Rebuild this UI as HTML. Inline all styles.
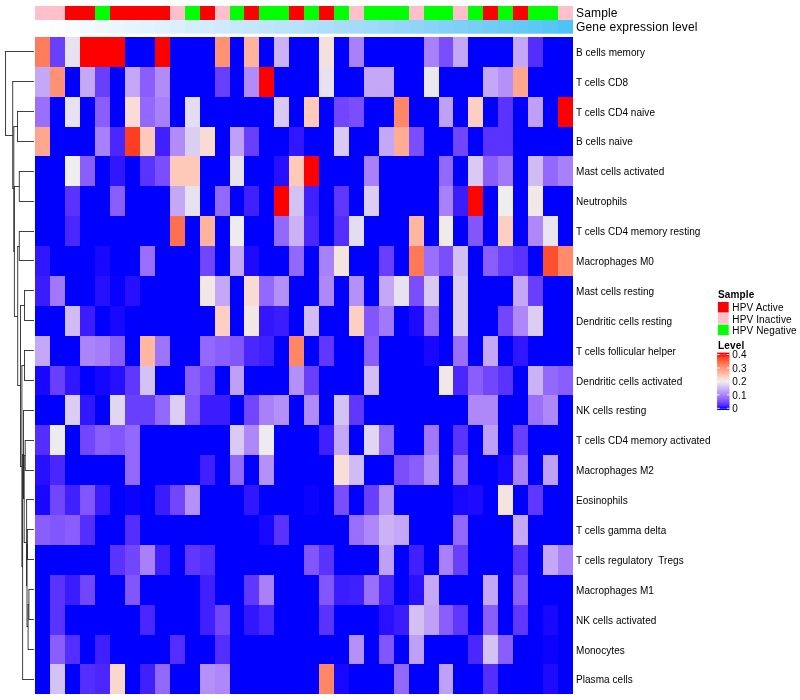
<!DOCTYPE html>
<html lang="en"><head><meta charset="utf-8"><title>Heatmap</title>
<style>
html,body{margin:0;padding:0;background:#fff}
svg{display:block}
text{font-family:"Liberation Sans",sans-serif;fill:#000}
.rl{font-size:10px;letter-spacing:0.05px}
.an{font-size:12px;letter-spacing:0.13px}
.lt{font-size:10px;font-weight:bold;letter-spacing:0.15px}
.ll{font-size:10px;letter-spacing:0.14px}
</style></head>
<body>
<svg width="800" height="700" viewBox="0 0 800 700">
<rect width="800" height="700" fill="#fff"/>
<g>
<rect x="35" y="6.00" width="30" height="14.00" fill="#ffc0cb"/>
<rect x="65" y="6.00" width="30" height="14.00" fill="#ff0000"/>
<rect x="95" y="6.00" width="15" height="14.00" fill="#00ff00"/>
<rect x="110" y="6.00" width="60" height="14.00" fill="#ff0000"/>
<rect x="170" y="6.00" width="15" height="14.00" fill="#ffc0cb"/>
<rect x="185" y="6.00" width="15" height="14.00" fill="#00ff00"/>
<rect x="200" y="6.00" width="15" height="14.00" fill="#ff0000"/>
<rect x="215" y="6.00" width="15" height="14.00" fill="#ffc0cb"/>
<rect x="230" y="6.00" width="14" height="14.00" fill="#00ff00"/>
<rect x="244" y="6.00" width="15" height="14.00" fill="#ff0000"/>
<rect x="259" y="6.00" width="30" height="14.00" fill="#00ff00"/>
<rect x="289" y="6.00" width="15" height="14.00" fill="#ff0000"/>
<rect x="304" y="6.00" width="15" height="14.00" fill="#00ff00"/>
<rect x="319" y="6.00" width="15" height="14.00" fill="#ff0000"/>
<rect x="334" y="6.00" width="15" height="14.00" fill="#00ff00"/>
<rect x="349" y="6.00" width="15" height="14.00" fill="#ffc0cb"/>
<rect x="364" y="6.00" width="45" height="14.00" fill="#00ff00"/>
<rect x="409" y="6.00" width="15" height="14.00" fill="#ffc0cb"/>
<rect x="424" y="6.00" width="29" height="14.00" fill="#00ff00"/>
<rect x="453" y="6.00" width="15" height="14.00" fill="#ffc0cb"/>
<rect x="468" y="6.00" width="15" height="14.00" fill="#00ff00"/>
<rect x="483" y="6.00" width="15" height="14.00" fill="#ff0000"/>
<rect x="498" y="6.00" width="15" height="14.00" fill="#00ff00"/>
<rect x="513" y="6.00" width="15" height="14.00" fill="#ff0000"/>
<rect x="528" y="6.00" width="30" height="14.00" fill="#00ff00"/>
<rect x="558" y="6.00" width="15" height="14.00" fill="#ffc0cb"/>
<rect x="35" y="20.00" width="15" height="13.70" fill="#ffffff"/>
<rect x="50" y="20.00" width="15" height="13.70" fill="#fbfdff"/>
<rect x="65" y="20.00" width="15" height="13.70" fill="#f7fcfe"/>
<rect x="80" y="20.00" width="15" height="13.70" fill="#f3fafe"/>
<rect x="95" y="20.00" width="15" height="13.70" fill="#eff8fe"/>
<rect x="110" y="20.00" width="15" height="13.70" fill="#eaf6fe"/>
<rect x="125" y="20.00" width="15" height="13.70" fill="#e6f5fd"/>
<rect x="140" y="20.00" width="15" height="13.70" fill="#e2f3fd"/>
<rect x="155" y="20.00" width="15" height="13.70" fill="#def1fd"/>
<rect x="170" y="20.00" width="15" height="13.70" fill="#daf0fd"/>
<rect x="185" y="20.00" width="15" height="13.70" fill="#d5eefc"/>
<rect x="200" y="20.00" width="15" height="13.70" fill="#d1ecfc"/>
<rect x="215" y="20.00" width="15" height="13.70" fill="#cdebfc"/>
<rect x="230" y="20.00" width="14" height="13.70" fill="#c8e9fc"/>
<rect x="244" y="20.00" width="15" height="13.70" fill="#c4e7fb"/>
<rect x="259" y="20.00" width="15" height="13.70" fill="#bfe6fb"/>
<rect x="274" y="20.00" width="15" height="13.70" fill="#bbe4fb"/>
<rect x="289" y="20.00" width="15" height="13.70" fill="#b6e2fa"/>
<rect x="304" y="20.00" width="15" height="13.70" fill="#b1e0fa"/>
<rect x="319" y="20.00" width="15" height="13.70" fill="#addffa"/>
<rect x="334" y="20.00" width="15" height="13.70" fill="#a8ddfa"/>
<rect x="349" y="20.00" width="15" height="13.70" fill="#a3dbf9"/>
<rect x="364" y="20.00" width="15" height="13.70" fill="#9edaf9"/>
<rect x="379" y="20.00" width="15" height="13.70" fill="#99d8f9"/>
<rect x="394" y="20.00" width="15" height="13.70" fill="#94d6f8"/>
<rect x="409" y="20.00" width="15" height="13.70" fill="#8ed5f8"/>
<rect x="424" y="20.00" width="15" height="13.70" fill="#89d3f8"/>
<rect x="439" y="20.00" width="14" height="13.70" fill="#83d1f8"/>
<rect x="453" y="20.00" width="15" height="13.70" fill="#7ed0f7"/>
<rect x="468" y="20.00" width="15" height="13.70" fill="#78cef7"/>
<rect x="483" y="20.00" width="15" height="13.70" fill="#71ccf7"/>
<rect x="498" y="20.00" width="15" height="13.70" fill="#6bcbf6"/>
<rect x="513" y="20.00" width="15" height="13.70" fill="#64c9f6"/>
<rect x="528" y="20.00" width="15" height="13.70" fill="#5dc7f6"/>
<rect x="543" y="20.00" width="15" height="13.70" fill="#55c6f5"/>
<rect x="558" y="20.00" width="15" height="13.70" fill="#4cc4f5"/>
<rect x="35" y="37" width="538" height="657" fill="#0000ff"/>
<rect x="35" y="37" width="15" height="30" fill="#ff7d5d"/>
<rect x="50" y="37" width="15" height="30" fill="#693ffe"/>
<rect x="65" y="37" width="15" height="30" fill="#e7e1f0"/>
<rect x="80" y="37" width="45" height="30" fill="#ff0000"/>
<rect x="155" y="37" width="15" height="30" fill="#ff0000"/>
<rect x="215" y="37" width="15" height="30" fill="#ff9275"/>
<rect x="244" y="37" width="15" height="30" fill="#ffb39d"/>
<rect x="274" y="37" width="15" height="30" fill="#cbb2f5"/>
<rect x="319" y="37" width="15" height="30" fill="#f5e1db"/>
<rect x="349" y="37" width="15" height="30" fill="#a780fa"/>
<rect x="424" y="37" width="15" height="30" fill="#a780fa"/>
<rect x="439" y="37" width="14" height="30" fill="#7a4efd"/>
<rect x="453" y="37" width="15" height="30" fill="#c4a7f7"/>
<rect x="513" y="37" width="15" height="30" fill="#c4a7f7"/>
<rect x="528" y="37" width="15" height="30" fill="#542efe"/>
<rect x="35" y="67" width="15" height="30" fill="#c4a7f7"/>
<rect x="50" y="67" width="15" height="30" fill="#ff9275"/>
<rect x="80" y="67" width="15" height="30" fill="#c4a7f7"/>
<rect x="95" y="67" width="15" height="30" fill="#693ffe"/>
<rect x="125" y="67" width="15" height="30" fill="#c4a7f7"/>
<rect x="140" y="67" width="15" height="30" fill="#8a5efc"/>
<rect x="155" y="67" width="15" height="30" fill="#b18cf9"/>
<rect x="215" y="67" width="15" height="30" fill="#693ffe"/>
<rect x="244" y="67" width="15" height="30" fill="#b18cf9"/>
<rect x="259" y="67" width="15" height="30" fill="#ff0000"/>
<rect x="319" y="67" width="15" height="30" fill="#e7e1f0"/>
<rect x="364" y="67" width="30" height="30" fill="#c4a7f7"/>
<rect x="424" y="67" width="15" height="30" fill="#ebe7ef"/>
<rect x="483" y="67" width="15" height="30" fill="#c4a7f7"/>
<rect x="498" y="67" width="15" height="30" fill="#b491f9"/>
<rect x="513" y="67" width="15" height="30" fill="#ffa78e"/>
<rect x="35" y="97" width="15" height="30" fill="#996ffb"/>
<rect x="65" y="97" width="15" height="30" fill="#e7e1f0"/>
<rect x="95" y="97" width="15" height="30" fill="#8a5efc"/>
<rect x="125" y="97" width="15" height="30" fill="#f8dcd5"/>
<rect x="140" y="97" width="15" height="30" fill="#9368fc"/>
<rect x="155" y="97" width="15" height="30" fill="#a780fa"/>
<rect x="185" y="97" width="15" height="30" fill="#e4dcf1"/>
<rect x="274" y="97" width="15" height="30" fill="#dacaf3"/>
<rect x="304" y="97" width="15" height="30" fill="#ffc9ba"/>
<rect x="334" y="97" width="15" height="30" fill="#7146fd"/>
<rect x="349" y="97" width="15" height="30" fill="#7a4efd"/>
<rect x="394" y="97" width="15" height="30" fill="#ff8768"/>
<rect x="439" y="97" width="14" height="30" fill="#bfa0f7"/>
<rect x="468" y="97" width="15" height="30" fill="#fdcfc2"/>
<rect x="498" y="97" width="15" height="30" fill="#5a33fe"/>
<rect x="528" y="97" width="15" height="30" fill="#bfa0f7"/>
<rect x="558" y="97" width="15" height="30" fill="#ff0000"/>
<rect x="35" y="127" width="15" height="29" fill="#ffa78e"/>
<rect x="95" y="127" width="15" height="29" fill="#a780fa"/>
<rect x="110" y="127" width="15" height="29" fill="#4a27fe"/>
<rect x="125" y="127" width="15" height="29" fill="#ff3d21"/>
<rect x="140" y="127" width="15" height="29" fill="#ffc9ba"/>
<rect x="155" y="127" width="15" height="29" fill="#4020ff"/>
<rect x="170" y="127" width="15" height="29" fill="#b18cf9"/>
<rect x="185" y="127" width="15" height="29" fill="#dccef2"/>
<rect x="200" y="127" width="15" height="29" fill="#f8dbd3"/>
<rect x="230" y="127" width="14" height="29" fill="#bfa0f7"/>
<rect x="244" y="127" width="15" height="29" fill="#693ffe"/>
<rect x="289" y="127" width="15" height="29" fill="#3117ff"/>
<rect x="334" y="127" width="15" height="29" fill="#dacaf3"/>
<rect x="379" y="127" width="15" height="29" fill="#c4a7f7"/>
<rect x="394" y="127" width="15" height="29" fill="#ffac95"/>
<rect x="409" y="127" width="15" height="29" fill="#7a4efd"/>
<rect x="453" y="127" width="15" height="29" fill="#7146fd"/>
<rect x="483" y="127" width="30" height="29" fill="#5a33fe"/>
<rect x="65" y="156" width="15" height="30" fill="#eeeeee"/>
<rect x="80" y="156" width="15" height="30" fill="#8a5efc"/>
<rect x="110" y="156" width="15" height="30" fill="#3117ff"/>
<rect x="140" y="156" width="15" height="30" fill="#5a33fe"/>
<rect x="155" y="156" width="15" height="30" fill="#7a4efd"/>
<rect x="170" y="156" width="30" height="30" fill="#ffc9ba"/>
<rect x="230" y="156" width="14" height="30" fill="#e7e1f0"/>
<rect x="274" y="156" width="15" height="30" fill="#2710ff"/>
<rect x="289" y="156" width="15" height="30" fill="#ffc9ba"/>
<rect x="304" y="156" width="15" height="30" fill="#ff0000"/>
<rect x="364" y="156" width="15" height="30" fill="#a780fa"/>
<rect x="439" y="156" width="14" height="30" fill="#9368fc"/>
<rect x="468" y="156" width="15" height="30" fill="#dacaf3"/>
<rect x="483" y="156" width="15" height="30" fill="#8a5efc"/>
<rect x="498" y="156" width="15" height="30" fill="#a178fa"/>
<rect x="528" y="156" width="15" height="30" fill="#d1bbf5"/>
<rect x="543" y="156" width="15" height="30" fill="#9368fc"/>
<rect x="558" y="156" width="15" height="30" fill="#a780fa"/>
<rect x="65" y="186" width="15" height="30" fill="#5a33fe"/>
<rect x="110" y="186" width="15" height="30" fill="#8a5efc"/>
<rect x="170" y="186" width="15" height="30" fill="#c4a7f7"/>
<rect x="185" y="186" width="15" height="30" fill="#e7e1f0"/>
<rect x="215" y="186" width="15" height="30" fill="#9368fc"/>
<rect x="244" y="186" width="15" height="30" fill="#4020ff"/>
<rect x="274" y="186" width="15" height="30" fill="#ff0000"/>
<rect x="289" y="186" width="15" height="30" fill="#d5c2f4"/>
<rect x="304" y="186" width="15" height="30" fill="#4020ff"/>
<rect x="334" y="186" width="15" height="30" fill="#5f37fe"/>
<rect x="364" y="186" width="15" height="30" fill="#dccef2"/>
<rect x="439" y="186" width="14" height="30" fill="#a780fa"/>
<rect x="453" y="186" width="15" height="30" fill="#3a1cff"/>
<rect x="468" y="186" width="15" height="30" fill="#ff0301"/>
<rect x="498" y="186" width="15" height="30" fill="#eeeeee"/>
<rect x="528" y="186" width="15" height="30" fill="#f1e9e7"/>
<rect x="65" y="216" width="15" height="30" fill="#4a27fe"/>
<rect x="170" y="216" width="15" height="30" fill="#ff7050"/>
<rect x="200" y="216" width="15" height="30" fill="#ffb39d"/>
<rect x="230" y="216" width="14" height="30" fill="#edebee"/>
<rect x="274" y="216" width="15" height="30" fill="#9368fc"/>
<rect x="289" y="216" width="15" height="30" fill="#cbb2f5"/>
<rect x="304" y="216" width="15" height="30" fill="#4a27fe"/>
<rect x="334" y="216" width="15" height="30" fill="#542efe"/>
<rect x="349" y="216" width="15" height="30" fill="#e4dcf1"/>
<rect x="409" y="216" width="15" height="30" fill="#ffb7a2"/>
<rect x="439" y="216" width="14" height="30" fill="#f0eae8"/>
<rect x="468" y="216" width="15" height="30" fill="#8256fd"/>
<rect x="498" y="216" width="15" height="30" fill="#fdcfc2"/>
<rect x="528" y="216" width="15" height="30" fill="#ae88f9"/>
<rect x="543" y="216" width="15" height="30" fill="#e9e4ef"/>
<rect x="35" y="246" width="15" height="30" fill="#3117ff"/>
<rect x="95" y="246" width="15" height="30" fill="#1808ff"/>
<rect x="140" y="246" width="15" height="30" fill="#996ffb"/>
<rect x="200" y="246" width="15" height="30" fill="#7146fd"/>
<rect x="230" y="246" width="14" height="30" fill="#c4a7f7"/>
<rect x="244" y="246" width="15" height="30" fill="#1e0bff"/>
<rect x="289" y="246" width="15" height="30" fill="#9368fc"/>
<rect x="319" y="246" width="15" height="30" fill="#a780fa"/>
<rect x="334" y="246" width="15" height="30" fill="#f4e3de"/>
<rect x="379" y="246" width="15" height="30" fill="#693ffe"/>
<rect x="409" y="246" width="15" height="30" fill="#ff7858"/>
<rect x="424" y="246" width="15" height="30" fill="#996ffb"/>
<rect x="439" y="246" width="14" height="30" fill="#7a4efd"/>
<rect x="453" y="246" width="15" height="30" fill="#d3bff4"/>
<rect x="483" y="246" width="15" height="30" fill="#8a5efc"/>
<rect x="498" y="246" width="15" height="30" fill="#693ffe"/>
<rect x="513" y="246" width="15" height="30" fill="#5a33fe"/>
<rect x="543" y="246" width="15" height="30" fill="#ff4f30"/>
<rect x="558" y="246" width="15" height="30" fill="#ff8a6c"/>
<rect x="35" y="276" width="15" height="30" fill="#3a1cff"/>
<rect x="50" y="276" width="15" height="30" fill="#a178fa"/>
<rect x="95" y="276" width="15" height="30" fill="#2710ff"/>
<rect x="110" y="276" width="15" height="30" fill="#0702ff"/>
<rect x="125" y="276" width="15" height="30" fill="#2710ff"/>
<rect x="200" y="276" width="15" height="30" fill="#f2e7e4"/>
<rect x="215" y="276" width="15" height="30" fill="#c4a7f7"/>
<rect x="244" y="276" width="15" height="30" fill="#f8dbd3"/>
<rect x="259" y="276" width="15" height="30" fill="#9368fc"/>
<rect x="274" y="276" width="15" height="30" fill="#b491f9"/>
<rect x="319" y="276" width="15" height="30" fill="#ae88f9"/>
<rect x="349" y="276" width="15" height="30" fill="#b491f9"/>
<rect x="379" y="276" width="15" height="30" fill="#c4a7f7"/>
<rect x="394" y="276" width="15" height="30" fill="#e7e1f0"/>
<rect x="409" y="276" width="15" height="30" fill="#7a4efd"/>
<rect x="424" y="276" width="15" height="30" fill="#dacaf3"/>
<rect x="453" y="276" width="15" height="30" fill="#dccef2"/>
<rect x="513" y="276" width="15" height="30" fill="#c4a7f7"/>
<rect x="528" y="276" width="15" height="30" fill="#693ffe"/>
<rect x="65" y="306" width="15" height="30" fill="#d1bbf5"/>
<rect x="80" y="306" width="15" height="30" fill="#3a1cff"/>
<rect x="110" y="306" width="15" height="30" fill="#1808ff"/>
<rect x="215" y="306" width="15" height="30" fill="#fdcfc2"/>
<rect x="244" y="306" width="15" height="30" fill="#f2e7e4"/>
<rect x="259" y="306" width="15" height="30" fill="#3117ff"/>
<rect x="274" y="306" width="15" height="30" fill="#3a1cff"/>
<rect x="304" y="306" width="15" height="30" fill="#d1bbf5"/>
<rect x="349" y="306" width="15" height="30" fill="#fdcfc2"/>
<rect x="364" y="306" width="15" height="30" fill="#8256fd"/>
<rect x="379" y="306" width="15" height="30" fill="#a178fa"/>
<rect x="409" y="306" width="15" height="30" fill="#1e0bff"/>
<rect x="424" y="306" width="15" height="30" fill="#9368fc"/>
<rect x="453" y="306" width="15" height="30" fill="#dccef2"/>
<rect x="498" y="306" width="15" height="30" fill="#7146fd"/>
<rect x="513" y="306" width="15" height="30" fill="#ae88f9"/>
<rect x="528" y="306" width="15" height="30" fill="#dccef2"/>
<rect x="35" y="336" width="15" height="30" fill="#c4a7f7"/>
<rect x="80" y="336" width="15" height="30" fill="#ab84fa"/>
<rect x="95" y="336" width="15" height="30" fill="#a57dfa"/>
<rect x="110" y="336" width="15" height="30" fill="#8a5efc"/>
<rect x="140" y="336" width="15" height="30" fill="#ffb7a2"/>
<rect x="155" y="336" width="15" height="30" fill="#9e74fb"/>
<rect x="200" y="336" width="15" height="30" fill="#9368fc"/>
<rect x="215" y="336" width="15" height="30" fill="#8a5efc"/>
<rect x="230" y="336" width="14" height="30" fill="#8256fd"/>
<rect x="244" y="336" width="15" height="30" fill="#4a27fe"/>
<rect x="259" y="336" width="15" height="30" fill="#4020ff"/>
<rect x="289" y="336" width="15" height="30" fill="#ff8768"/>
<rect x="319" y="336" width="15" height="30" fill="#5f37fe"/>
<rect x="364" y="336" width="15" height="30" fill="#8a5efc"/>
<rect x="424" y="336" width="15" height="30" fill="#1808ff"/>
<rect x="453" y="336" width="15" height="30" fill="#996ffb"/>
<rect x="483" y="336" width="15" height="30" fill="#c4a7f7"/>
<rect x="513" y="336" width="15" height="30" fill="#3117ff"/>
<rect x="35" y="366" width="15" height="29" fill="#1808ff"/>
<rect x="50" y="366" width="15" height="29" fill="#693ffe"/>
<rect x="65" y="366" width="15" height="29" fill="#3117ff"/>
<rect x="95" y="366" width="15" height="29" fill="#1506ff"/>
<rect x="110" y="366" width="15" height="29" fill="#2710ff"/>
<rect x="125" y="366" width="15" height="29" fill="#5f37fe"/>
<rect x="140" y="366" width="15" height="29" fill="#d5c2f4"/>
<rect x="185" y="366" width="15" height="29" fill="#8a5efc"/>
<rect x="200" y="366" width="15" height="29" fill="#7146fd"/>
<rect x="230" y="366" width="14" height="29" fill="#bfa0f7"/>
<rect x="289" y="366" width="15" height="29" fill="#b491f9"/>
<rect x="304" y="366" width="15" height="29" fill="#693ffe"/>
<rect x="364" y="366" width="15" height="29" fill="#d3bff4"/>
<rect x="439" y="366" width="14" height="29" fill="#f2e7e4"/>
<rect x="453" y="366" width="15" height="29" fill="#4a27fe"/>
<rect x="468" y="366" width="15" height="29" fill="#8a5efc"/>
<rect x="483" y="366" width="15" height="29" fill="#7146fd"/>
<rect x="498" y="366" width="15" height="29" fill="#5a33fe"/>
<rect x="528" y="366" width="15" height="29" fill="#cbb2f5"/>
<rect x="543" y="366" width="15" height="29" fill="#9368fc"/>
<rect x="558" y="366" width="15" height="29" fill="#8a5efc"/>
<rect x="65" y="395" width="15" height="30" fill="#dccef2"/>
<rect x="80" y="395" width="15" height="30" fill="#3117ff"/>
<rect x="110" y="395" width="15" height="30" fill="#e1d6f1"/>
<rect x="125" y="395" width="30" height="30" fill="#693ffe"/>
<rect x="155" y="395" width="15" height="30" fill="#9368fc"/>
<rect x="170" y="395" width="15" height="30" fill="#dccef2"/>
<rect x="185" y="395" width="15" height="30" fill="#8256fd"/>
<rect x="200" y="395" width="30" height="30" fill="#3a1cff"/>
<rect x="244" y="395" width="15" height="30" fill="#7146fd"/>
<rect x="259" y="395" width="15" height="30" fill="#a780fa"/>
<rect x="274" y="395" width="15" height="30" fill="#b491f9"/>
<rect x="304" y="395" width="15" height="30" fill="#b18cf9"/>
<rect x="334" y="395" width="15" height="30" fill="#d5c2f4"/>
<rect x="349" y="395" width="15" height="30" fill="#5f37fe"/>
<rect x="468" y="395" width="30" height="30" fill="#ae88f9"/>
<rect x="528" y="395" width="15" height="30" fill="#996ffb"/>
<rect x="543" y="395" width="15" height="30" fill="#ae88f9"/>
<rect x="35" y="425" width="15" height="30" fill="#542efe"/>
<rect x="50" y="425" width="15" height="30" fill="#edebee"/>
<rect x="80" y="425" width="15" height="30" fill="#7146fd"/>
<rect x="95" y="425" width="15" height="30" fill="#8a5efc"/>
<rect x="110" y="425" width="15" height="30" fill="#8256fd"/>
<rect x="125" y="425" width="15" height="30" fill="#9368fc"/>
<rect x="230" y="425" width="14" height="30" fill="#dacaf3"/>
<rect x="244" y="425" width="15" height="30" fill="#ae88f9"/>
<rect x="259" y="425" width="15" height="30" fill="#edebee"/>
<rect x="319" y="425" width="15" height="30" fill="#4020ff"/>
<rect x="334" y="425" width="15" height="30" fill="#c4a7f7"/>
<rect x="364" y="425" width="15" height="30" fill="#e1d6f1"/>
<rect x="379" y="425" width="15" height="30" fill="#9368fc"/>
<rect x="424" y="425" width="15" height="30" fill="#a178fa"/>
<rect x="453" y="425" width="15" height="30" fill="#5a33fe"/>
<rect x="483" y="425" width="15" height="30" fill="#bfa0f7"/>
<rect x="513" y="425" width="15" height="30" fill="#693ffe"/>
<rect x="35" y="455" width="15" height="30" fill="#2710ff"/>
<rect x="50" y="455" width="15" height="30" fill="#4a27fe"/>
<rect x="125" y="455" width="15" height="30" fill="#9368fc"/>
<rect x="200" y="455" width="15" height="30" fill="#4020ff"/>
<rect x="230" y="455" width="14" height="30" fill="#9368fc"/>
<rect x="259" y="455" width="15" height="30" fill="#b491f9"/>
<rect x="334" y="455" width="15" height="30" fill="#f7dfd8"/>
<rect x="349" y="455" width="15" height="30" fill="#d1bbf5"/>
<rect x="394" y="455" width="15" height="30" fill="#7a4efd"/>
<rect x="409" y="455" width="15" height="30" fill="#8a5efc"/>
<rect x="424" y="455" width="15" height="30" fill="#b491f9"/>
<rect x="453" y="455" width="15" height="30" fill="#996ffb"/>
<rect x="498" y="455" width="15" height="30" fill="#1808ff"/>
<rect x="513" y="455" width="15" height="30" fill="#a780fa"/>
<rect x="543" y="455" width="15" height="30" fill="#bfa0f7"/>
<rect x="35" y="485" width="15" height="30" fill="#1808ff"/>
<rect x="50" y="485" width="15" height="30" fill="#7146fd"/>
<rect x="65" y="485" width="15" height="30" fill="#4020ff"/>
<rect x="80" y="485" width="15" height="30" fill="#8256fd"/>
<rect x="95" y="485" width="15" height="30" fill="#3a1cff"/>
<rect x="125" y="485" width="15" height="30" fill="#0c03ff"/>
<rect x="155" y="485" width="15" height="30" fill="#3a1cff"/>
<rect x="170" y="485" width="15" height="30" fill="#7146fd"/>
<rect x="185" y="485" width="15" height="30" fill="#b491f9"/>
<rect x="244" y="485" width="15" height="30" fill="#3117ff"/>
<rect x="304" y="485" width="15" height="30" fill="#0c03ff"/>
<rect x="334" y="485" width="15" height="30" fill="#7a4efd"/>
<rect x="364" y="485" width="15" height="30" fill="#693ffe"/>
<rect x="379" y="485" width="15" height="30" fill="#b491f9"/>
<rect x="453" y="485" width="15" height="30" fill="#1808ff"/>
<rect x="468" y="485" width="15" height="30" fill="#1e0bff"/>
<rect x="498" y="485" width="15" height="30" fill="#f4e3de"/>
<rect x="528" y="485" width="15" height="30" fill="#5f37fe"/>
<rect x="35" y="515" width="15" height="30" fill="#8a5efc"/>
<rect x="50" y="515" width="15" height="30" fill="#8256fd"/>
<rect x="65" y="515" width="15" height="30" fill="#8a5efc"/>
<rect x="80" y="515" width="15" height="30" fill="#542efe"/>
<rect x="125" y="515" width="15" height="30" fill="#542efe"/>
<rect x="259" y="515" width="15" height="30" fill="#1808ff"/>
<rect x="274" y="515" width="15" height="30" fill="#5a33fe"/>
<rect x="349" y="515" width="15" height="30" fill="#996ffb"/>
<rect x="364" y="515" width="15" height="30" fill="#ae88f9"/>
<rect x="379" y="515" width="15" height="30" fill="#cbb2f5"/>
<rect x="394" y="515" width="15" height="30" fill="#c4a7f7"/>
<rect x="453" y="515" width="15" height="30" fill="#9368fc"/>
<rect x="513" y="515" width="15" height="30" fill="#c6aaf6"/>
<rect x="110" y="545" width="15" height="30" fill="#5a33fe"/>
<rect x="125" y="545" width="15" height="30" fill="#7146fd"/>
<rect x="140" y="545" width="15" height="30" fill="#a780fa"/>
<rect x="155" y="545" width="15" height="30" fill="#4020ff"/>
<rect x="185" y="545" width="15" height="30" fill="#5f37fe"/>
<rect x="200" y="545" width="15" height="30" fill="#542efe"/>
<rect x="304" y="545" width="15" height="30" fill="#8256fd"/>
<rect x="319" y="545" width="15" height="30" fill="#5a33fe"/>
<rect x="379" y="545" width="15" height="30" fill="#bfa0f7"/>
<rect x="409" y="545" width="15" height="30" fill="#4020ff"/>
<rect x="439" y="545" width="14" height="30" fill="#a780fa"/>
<rect x="453" y="545" width="15" height="30" fill="#693ffe"/>
<rect x="513" y="545" width="15" height="30" fill="#5a33fe"/>
<rect x="543" y="545" width="15" height="30" fill="#c4a7f7"/>
<rect x="558" y="545" width="15" height="30" fill="#a780fa"/>
<rect x="50" y="575" width="15" height="30" fill="#5a33fe"/>
<rect x="65" y="575" width="15" height="30" fill="#3a1cff"/>
<rect x="80" y="575" width="15" height="30" fill="#7146fd"/>
<rect x="125" y="575" width="15" height="30" fill="#8256fd"/>
<rect x="200" y="575" width="15" height="30" fill="#4020ff"/>
<rect x="244" y="575" width="15" height="30" fill="#5f37fe"/>
<rect x="259" y="575" width="15" height="30" fill="#a780fa"/>
<rect x="319" y="575" width="15" height="30" fill="#8256fd"/>
<rect x="334" y="575" width="15" height="30" fill="#3a1cff"/>
<rect x="349" y="575" width="15" height="30" fill="#4020ff"/>
<rect x="364" y="575" width="15" height="30" fill="#996ffb"/>
<rect x="379" y="575" width="15" height="30" fill="#4a27fe"/>
<rect x="409" y="575" width="15" height="30" fill="#2911ff"/>
<rect x="424" y="575" width="15" height="30" fill="#c4a7f7"/>
<rect x="483" y="575" width="15" height="30" fill="#c4a7f7"/>
<rect x="513" y="575" width="15" height="30" fill="#8a5efc"/>
<rect x="50" y="605" width="15" height="30" fill="#5a33fe"/>
<rect x="140" y="605" width="15" height="30" fill="#4a27fe"/>
<rect x="200" y="605" width="15" height="30" fill="#4020ff"/>
<rect x="215" y="605" width="15" height="30" fill="#7146fd"/>
<rect x="244" y="605" width="15" height="30" fill="#3117ff"/>
<rect x="259" y="605" width="15" height="30" fill="#4a27fe"/>
<rect x="319" y="605" width="15" height="30" fill="#5a33fe"/>
<rect x="379" y="605" width="15" height="30" fill="#2911ff"/>
<rect x="394" y="605" width="15" height="30" fill="#3a1cff"/>
<rect x="409" y="605" width="15" height="30" fill="#d3bff4"/>
<rect x="424" y="605" width="15" height="30" fill="#bfa0f7"/>
<rect x="439" y="605" width="14" height="30" fill="#8a5efc"/>
<rect x="453" y="605" width="15" height="30" fill="#5f37fe"/>
<rect x="483" y="605" width="15" height="30" fill="#8a5efc"/>
<rect x="513" y="605" width="15" height="30" fill="#5f37fe"/>
<rect x="543" y="605" width="15" height="30" fill="#1808ff"/>
<rect x="50" y="635" width="15" height="29" fill="#8a5efc"/>
<rect x="65" y="635" width="15" height="29" fill="#542efe"/>
<rect x="95" y="635" width="15" height="29" fill="#4020ff"/>
<rect x="170" y="635" width="15" height="29" fill="#542efe"/>
<rect x="215" y="635" width="15" height="29" fill="#542efe"/>
<rect x="349" y="635" width="15" height="29" fill="#b491f9"/>
<rect x="379" y="635" width="15" height="29" fill="#8256fd"/>
<rect x="409" y="635" width="15" height="29" fill="#bfa0f7"/>
<rect x="468" y="635" width="15" height="29" fill="#4a27fe"/>
<rect x="483" y="635" width="15" height="29" fill="#d5c2f4"/>
<rect x="498" y="635" width="15" height="29" fill="#8a5efc"/>
<rect x="543" y="635" width="15" height="29" fill="#0c03ff"/>
<rect x="50" y="664" width="15" height="30" fill="#d5c2f4"/>
<rect x="80" y="664" width="15" height="30" fill="#542efe"/>
<rect x="95" y="664" width="15" height="30" fill="#4a27fe"/>
<rect x="110" y="664" width="15" height="30" fill="#fad6cc"/>
<rect x="140" y="664" width="15" height="30" fill="#4020ff"/>
<rect x="155" y="664" width="15" height="30" fill="#9368fc"/>
<rect x="200" y="664" width="15" height="30" fill="#b491f9"/>
<rect x="215" y="664" width="15" height="30" fill="#ae88f9"/>
<rect x="319" y="664" width="15" height="30" fill="#ff8768"/>
<rect x="334" y="664" width="15" height="30" fill="#1808ff"/>
<rect x="394" y="664" width="15" height="30" fill="#9368fc"/>
<rect x="439" y="664" width="14" height="30" fill="#bfa0f7"/>
<rect x="483" y="664" width="15" height="30" fill="#542efe"/>
<rect x="543" y="664" width="15" height="30" fill="#1e0bff"/>
</g>
<path d="M28.90 589.12L28.90 619.88M28.90 589.50L34.00 589.50M28.90 619.50L34.00 619.50M28.10 604.12L28.10 649.88M28.10 604.50L28.90 604.50M28.10 649.50L34.00 649.50M27.40 529.12L27.40 559.88M27.40 529.50L34.00 529.50M27.40 559.50L34.00 559.50M27.00 544.12L27.00 626.88M27.00 544.50L27.40 544.50M27.00 626.50L28.10 626.50M26.60 499.12L26.60 585.88M26.60 499.50L34.00 499.50M26.60 585.50L27.00 585.50M25.20 440.12L25.20 470.88M25.20 440.50L34.00 440.50M25.20 470.50L34.00 470.50M24.20 455.12L24.20 542.88M24.20 455.50L25.20 455.50M24.20 542.50L26.60 542.50M23.50 410.12L23.50 498.88M23.50 410.50L34.00 410.50M23.50 498.50L24.20 498.50M22.60 454.12L22.60 679.88M22.60 454.50L23.50 454.50M22.60 679.50L34.00 679.50M24.50 350.12L24.50 380.88M24.50 350.50L34.00 350.50M24.50 380.50L34.00 380.50M21.90 365.12L21.90 566.88M21.90 365.50L24.50 365.50M21.90 566.50L22.60 566.50M24.50 290.12L24.50 320.88M24.50 290.50L34.00 290.50M24.50 320.50L34.00 320.50M20.50 305.12L20.50 466.88M20.50 305.50L24.50 305.50M20.50 466.50L21.90 466.50M19.30 231.12L19.30 260.88M19.30 231.50L34.00 231.50M19.30 260.50L34.00 260.50M17.70 246.12L17.70 385.88M17.70 246.50L19.30 246.50M17.70 385.50L20.50 385.50M19.30 171.12L19.30 201.88M19.30 171.50L34.00 171.50M19.30 201.50L34.00 201.50M14.40 186.12L14.40 316.88M14.40 186.50L19.30 186.50M14.40 316.50L17.70 316.50M17.50 111.12L17.50 141.88M17.50 111.50L34.00 111.50M17.50 141.50L34.00 141.50M13.80 126.12L13.80 251.88M13.80 126.50L17.50 126.50M13.80 251.50L14.40 251.50M12.70 81.12L12.70 188.88M12.70 81.50L34.00 81.50M12.70 188.50L13.80 188.50M5.50 51.12L5.50 135.88M5.50 51.50L34.00 51.50M5.50 135.50L12.70 135.50" fill="none" stroke="#000" stroke-width="0.75" stroke-linecap="butt"/>
<text class="an" x="576.1" y="16.9">Sample</text>
<text class="an" x="576.1" y="30.6">Gene expression level</text>
<text class="rl" x="576" y="56" xml:space="preserve">B cells memory</text>
<text class="rl" x="576" y="86" xml:space="preserve">T cells CD8</text>
<text class="rl" x="576" y="116" xml:space="preserve">T cells CD4 naive</text>
<text class="rl" x="576" y="145" xml:space="preserve">B cells naive</text>
<text class="rl" x="576" y="175" xml:space="preserve">Mast cells activated</text>
<text class="rl" x="576" y="205" xml:space="preserve">Neutrophils</text>
<text class="rl" x="576" y="235" xml:space="preserve">T cells CD4 memory resting</text>
<text class="rl" x="576" y="265" xml:space="preserve">Macrophages M0</text>
<text class="rl" x="576" y="295" xml:space="preserve">Mast cells resting</text>
<text class="rl" x="576" y="325" xml:space="preserve">Dendritic cells resting</text>
<text class="rl" x="576" y="355" xml:space="preserve">T cells follicular helper</text>
<text class="rl" x="576" y="385" xml:space="preserve">Dendritic cells activated</text>
<text class="rl" x="576" y="414" xml:space="preserve">NK cells resting</text>
<text class="rl" x="576" y="444" xml:space="preserve">T cells CD4 memory activated</text>
<text class="rl" x="576" y="474" xml:space="preserve">Macrophages M2</text>
<text class="rl" x="576" y="504" xml:space="preserve">Eosinophils</text>
<text class="rl" x="576" y="534" xml:space="preserve">T cells gamma delta</text>
<text class="rl" x="576" y="564" xml:space="preserve">T cells regulatory  Tregs</text>
<text class="rl" x="576" y="594" xml:space="preserve">Macrophages M1</text>
<text class="rl" x="576" y="624" xml:space="preserve">NK cells activated</text>
<text class="rl" x="576" y="654" xml:space="preserve">Monocytes</text>
<text class="rl" x="576" y="683" xml:space="preserve">Plasma cells</text>
<text class="lt" x="718" y="297.6">Sample</text>
<rect x="717.9" y="302.00" width="10.8" height="10.5" fill="#ff0000"/>
<text class="ll" x="732.3" y="311.00">HPV Active</text>
<rect x="717.9" y="313.30" width="10.8" height="10.5" fill="#ffc0cb"/>
<text class="ll" x="732.3" y="323.00">HPV Inactive</text>
<rect x="717.9" y="324.60" width="10.8" height="10.5" fill="#00ff00"/>
<text class="ll" x="732.3" y="334.00">HPV Negative</text>
<text class="lt" x="718" y="348.5">Level</text>
<defs><linearGradient id="lg" x1="0" y1="0" x2="0" y2="1"><stop offset="0.000" stop-color="#ff0000"/><stop offset="0.050" stop-color="#ff3c20"/><stop offset="0.100" stop-color="#ff5837"/><stop offset="0.150" stop-color="#ff6e4e"/><stop offset="0.200" stop-color="#ff8364"/><stop offset="0.250" stop-color="#ff967a"/><stop offset="0.300" stop-color="#ffa890"/><stop offset="0.350" stop-color="#ffbaa7"/><stop offset="0.400" stop-color="#feccbe"/><stop offset="0.450" stop-color="#f7ddd6"/><stop offset="0.500" stop-color="#eeeeee"/><stop offset="0.550" stop-color="#e2d8f1"/><stop offset="0.600" stop-color="#d6c3f4"/><stop offset="0.650" stop-color="#c9aef6"/><stop offset="0.700" stop-color="#ba99f8"/><stop offset="0.750" stop-color="#aa83fa"/><stop offset="0.800" stop-color="#996efb"/><stop offset="0.850" stop-color="#8559fc"/><stop offset="0.900" stop-color="#6d42fd"/><stop offset="0.950" stop-color="#4d29fe"/><stop offset="1.000" stop-color="#0000ff"/></linearGradient></defs>
<rect x="717.1" y="352.60" width="12.4" height="1.90" fill="#ff0000"/>
<rect x="717.1" y="408.30" width="12.4" height="1.70" fill="#0000ff"/>
<rect x="717.1" y="354.50" width="12.4" height="53.80" fill="url(#lg)"/>
<path d="M717.1 354.50h2.6M726.9 354.50h2.6" stroke="#fff" stroke-width="0.9"/>
<text class="ll" x="732.3" y="358.20">0.4</text>
<path d="M717.1 367.95h2.6M726.9 367.95h2.6" stroke="#fff" stroke-width="0.9"/>
<text class="ll" x="732.3" y="371.65">0.3</text>
<path d="M717.1 381.40h2.6M726.9 381.40h2.6" stroke="#fff" stroke-width="0.9"/>
<text class="ll" x="732.3" y="385.10">0.2</text>
<path d="M717.1 394.85h2.6M726.9 394.85h2.6" stroke="#fff" stroke-width="0.9"/>
<text class="ll" x="732.3" y="398.55">0.1</text>
<path d="M717.1 408.30h2.6M726.9 408.30h2.6" stroke="#fff" stroke-width="0.9"/>
<text class="ll" x="732.3" y="412.00">0</text>
</svg>
</body></html>
